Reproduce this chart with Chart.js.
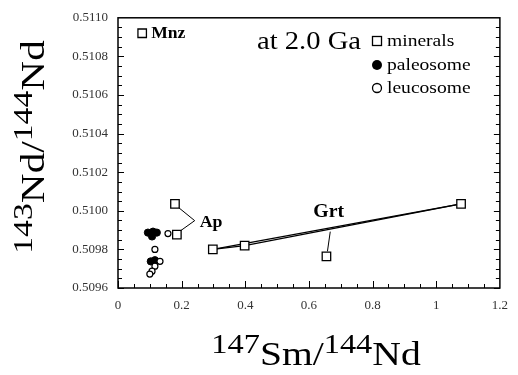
<!DOCTYPE html>
<html>
<head>
<meta charset="utf-8">
<script src="https://cdn.jsdelivr.net/npm/chart.js@4.4.1/dist/chart.umd.min.js"></script>
<style>
html, body { margin: 0; padding: 0; background: #fff; }
#parent { width: 518px; height: 375px; }
</style>
</head>
<body>
<div id="parent"><canvas id="myChart" width="518" height="375"></canvas></div>
<script>
// tick labels
const xTickValues = [0, 0.2, 0.4, 0.6, 0.8, 1, 1.2];
const xTickLabels = ['0', '0.2', '0.4', '0.6', '0.8', '1', '1.2'];
const yTickValues = [0.5096, 0.5098, 0.5100, 0.5102, 0.5104, 0.5106, 0.5108, 0.5110];
const yTickLabels = ['0.5096', '0.5098', '0.5100', '0.5102', '0.5104', '0.5106', '0.5108', '0.5110'];

// minerals (squares): Mnz, Ap, Ap, Grt x4
const mineralNames = ['Mnz', 'Ap', 'Ap', 'Grt', 'Grt', 'Grt', 'Grt'];
const mineralX = [0.076, 0.179, 0.185, 0.298, 0.398, 1.078, 0.655];
const mineralY = [0.51092, 0.510036, 0.509877, 0.50980, 0.50982, 0.510036, 0.509764];

// paleosome (filled circles)
const paleoX = [0.094, 0.110, 0.122, 0.107, 0.103, 0.116];
const paleoY = [0.509887, 0.509892, 0.509887, 0.509867, 0.509738, 0.509744];

// leucosome (open circles)
const leucoX = [0.157, 0.116, 0.132, 0.116, 0.107, 0.100];
const leucoY = [0.509882, 0.509800, 0.509738, 0.509713, 0.509687, 0.509672];

// garnet isochron tie lines
const grtLineAX = [0.298, 0.398, 1.078];
const grtLineAY = [0.50980, 0.50982, 0.510036];
const grtLineBX = [0.298, 1.078];
const grtLineBY = [0.50980, 0.510036];

const legendLabels = ['minerals', 'paleosome', 'leucosome'];

function pts(xs, ys) {
    return xs.map((v, i) => ({ x: v, y: ys[i] }));
}

const serif = "'Liberation Serif', 'Times New Roman', serif";

// text with superscript parts, centred on cx, stretched sideways by sx
function drawSupText(ctx, parts, cx, baseline, big, small, raise, sx) {
    let w = 0;
    parts.forEach(p => {
        ctx.font = (p.sup ? small : big) + 'px ' + serif;
        p.w = ctx.measureText(p.t).width;
        w += p.w;
    });
    ctx.save();
    ctx.translate(cx, baseline);
    ctx.scale(sx, 1);
    let px = -w / 2;
    ctx.textAlign = 'left';
    ctx.textBaseline = 'alphabetic';
    parts.forEach(p => {
        ctx.font = (p.sup ? small : big) + 'px ' + serif;
        ctx.fillText(p.t, px, p.sup ? -raise : 0);
        px += p.w;
    });
    ctx.restore();
}

function wideText(ctx, t, x0, y0, sx) {
    ctx.save();
    ctx.translate(x0, y0);
    ctx.scale(sx, 1);
    ctx.fillText(t, 0, 0);
    ctx.restore();
}

const decor = {
    id: 'decor',
    afterDatasetsDraw(chart) {
        const { ctx, chartArea: a, scales: { x, y } } = chart;
        ctx.save();
        ctx.fillStyle = '#000';
        ctx.strokeStyle = '#000';

        // frame
        ctx.lineWidth = 1.5;
        ctx.strokeRect(a.left, a.top, a.right - a.left, a.bottom - a.top);

        // inward ticks, 4 per labelled interval
        ctx.lineWidth = 1;
        ctx.beginPath();
        for (let i = 0; i < yTickValues.length - 1; i++) {
            const step = (yTickValues[i + 1] - yTickValues[i]) / 4;
            for (let k = 0; k < 4; k++) {
                const py = Math.round(y.getPixelForValue(yTickValues[i] + k * step)) + 0.5;
                const len = k === 0 ? 6 : 4;
                ctx.moveTo(a.left, py); ctx.lineTo(a.left + len, py);
                ctx.moveTo(a.right, py); ctx.lineTo(a.right - len, py);
            }
        }
        for (let i = 0; i < xTickValues.length - 1; i++) {
            const step = (xTickValues[i + 1] - xTickValues[i]) / 4;
            for (let k = 0; k < 4; k++) {
                const px = Math.round(x.getPixelForValue(xTickValues[i] + k * step)) + 0.5;
                const len = k === 0 ? 7 : 4;
                ctx.moveTo(px, a.bottom); ctx.lineTo(px, a.bottom - len);
            }
        }
        ctx.stroke();

        // Mnz label
        ctx.font = 'bold 16px ' + serif;
        ctx.textAlign = 'left';
        ctx.textBaseline = 'middle';
        wideText(ctx, mineralNames[0], x.getPixelForValue(mineralX[0]) + 9, y.getPixelForValue(mineralY[0]) + 1, 1.1);

        // Ap label with leader lines
        const apX = x.getPixelForValue(0.241), apY = y.getPixelForValue(0.509949);
        ctx.lineWidth = 1;
        ctx.beginPath();
        ctx.moveTo(x.getPixelForValue(mineralX[1]) + 4, y.getPixelForValue(mineralY[1]) + 4);
        ctx.lineTo(apX, apY);
        ctx.lineTo(x.getPixelForValue(mineralX[2]) + 4, y.getPixelForValue(mineralY[2]) - 4);
        ctx.stroke();
        ctx.font = 'bold 17px ' + serif;
        wideText(ctx, mineralNames[1], apX + 5, apY + 2, 1.05);

        // Grt label masking the tie line, with leader
        const gX = x.getPixelForValue(0.662), gY = y.getPixelForValue(0.50999);
        ctx.font = 'bold 18px ' + serif;
        const gw = ctx.measureText('Grt').width * 1.1;
        ctx.fillStyle = '#fff';
        ctx.fillRect(gX - gw / 2 - 4, gY - 9, gw + 8, 20);
        ctx.fillStyle = '#000';
        wideText(ctx, mineralNames[3], gX - gw / 2, gY, 1.1);
        ctx.beginPath();
        ctx.moveTo(x.getPixelForValue(0.667), y.getPixelForValue(0.509892));
        ctx.lineTo(x.getPixelForValue(mineralX[6]) + 1, y.getPixelForValue(mineralY[6]) - 5);
        ctx.stroke();

        // age note
        ctx.font = '26px ' + serif;
        wideText(ctx, 'at 2.0 Ga', 257, 42, 1.1);

        // legend
        const lx = 377, ly = [41, 65, 88];
        ctx.lineWidth = 1.3;
        ctx.fillStyle = '#fff';
        ctx.fillRect(lx - 4.5, ly[0] - 4.5, 9, 9);
        ctx.strokeRect(lx - 4.5, ly[0] - 4.5, 9, 9);
        ctx.fillStyle = '#000';
        ctx.beginPath(); ctx.arc(lx, ly[1], 5, 0, Math.PI * 2); ctx.fill();
        ctx.beginPath(); ctx.arc(lx, ly[2], 4.5, 0, Math.PI * 2); ctx.stroke();
        ctx.font = '17px ' + serif;
        legendLabels.forEach((t, i) => wideText(ctx, t, lx + 10, ly[i] + 1, 1.15));

        // axis titles
        drawSupText(ctx, [{ t: '147', sup: true }, { t: 'Sm/' }, { t: '144', sup: true }, { t: 'Nd' }],
            316, 365, 33, 27, 12, 1.2);
        ctx.translate(44, 147);
        ctx.rotate(-Math.PI / 2);
        drawSupText(ctx, [{ t: '143', sup: true }, { t: 'Nd/' }, { t: '144', sup: true }, { t: 'Nd' }],
            0, 0, 33, 27, 12, 1.25);
        ctx.restore();
    }
};

const tickFont = { family: serif, size: 13 };

new Chart(document.getElementById('myChart'), {
    type: 'scatter',
    data: {
        datasets: [
            {
                data: pts(grtLineAX, grtLineAY), showLine: true, pointRadius: 0,
                borderColor: '#000', borderWidth: 1.2, order: 5
            },
            {
                data: pts(grtLineBX, grtLineBY), showLine: true, pointRadius: 0,
                borderColor: '#000', borderWidth: 1.2, order: 5
            },
            {
                data: pts(paleoX, paleoY), pointStyle: 'circle', pointRadius: 3.6,
                backgroundColor: '#000', borderColor: '#000', borderWidth: 1, order: 3
            },
            {
                data: pts(leucoX, leucoY), pointStyle: 'circle', pointRadius: 3,
                backgroundColor: '#fff', borderColor: '#000', borderWidth: 1.2, order: 2
            },
            {
                data: pts(mineralX, mineralY), pointStyle: 'rect', pointRadius: 6,
                backgroundColor: '#fff', borderColor: '#000', borderWidth: 1.3, order: 1
            }
        ]
    },
    options: {
        responsive: false,
        devicePixelRatio: 1,
        animation: false,
        layout: { padding: { top: 15, right: 17, left: 0, bottom: 0 } },
        plugins: { legend: { display: false }, tooltip: { enabled: false } },
        scales: {
            x: {
                type: 'linear', min: 0, max: 1.2,
                afterBuildTicks: s => { s.ticks = xTickValues.map(v => ({ value: v })); },
                afterFit: s => { s.height = 87; },
                ticks: { callback: (v, i) => xTickLabels[i], color: '#333', font: tickFont, padding: 10, maxRotation: 0 },
                grid: { display: false, drawTicks: false },
                border: { display: false }
            },
            y: {
                type: 'linear', min: 0.5096, max: 0.5110,
                afterBuildTicks: s => { s.ticks = yTickValues.map(v => ({ value: v })); },
                afterFit: s => { s.width = 118; },
                ticks: { callback: (v, i) => yTickLabels[i], color: '#333', font: tickFont, padding: 10 },
                grid: { display: false, drawTicks: false },
                border: { display: false }
            }
        }
    },
    plugins: [decor]
});
</script>
</body>
</html>
